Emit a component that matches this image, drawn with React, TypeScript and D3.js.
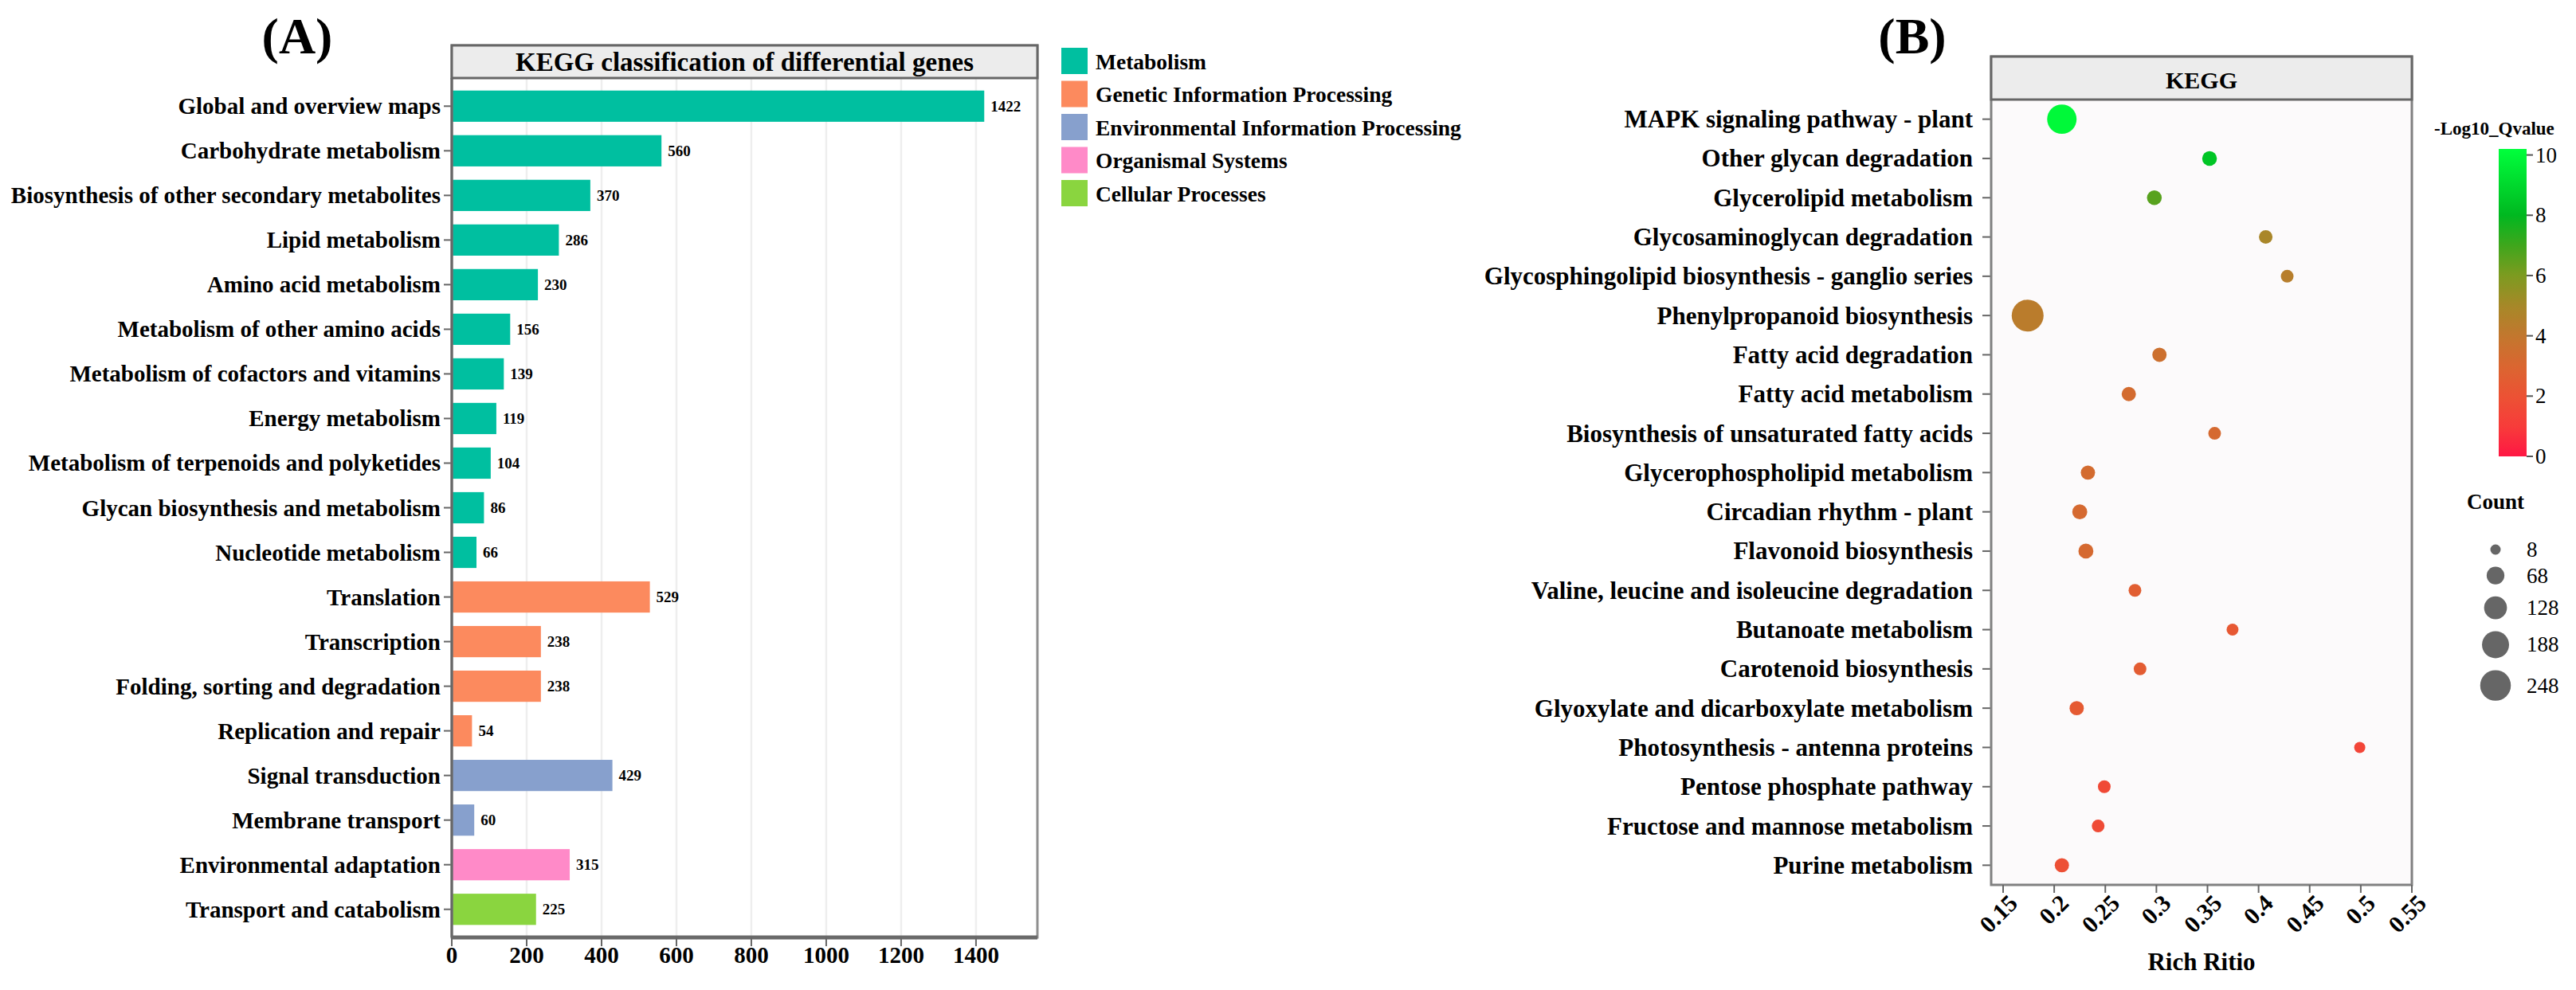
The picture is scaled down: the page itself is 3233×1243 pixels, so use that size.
import * as d3 from "d3";

// ---- Panel A data ----
const categoriesA = [
  "Global and overview maps",
  "Carbohydrate metabolism",
  "Biosynthesis of other secondary metabolites",
  "Lipid metabolism",
  "Amino acid metabolism",
  "Metabolism of other amino acids",
  "Metabolism of cofactors and vitamins",
  "Energy metabolism",
  "Metabolism of terpenoids and polyketides",
  "Glycan biosynthesis and metabolism",
  "Nucleotide metabolism",
  "Translation",
  "Transcription",
  "Folding, sorting and degradation",
  "Replication and repair",
  "Signal transduction",
  "Membrane transport",
  "Environmental adaptation",
  "Transport and catabolism",
];
const valuesA = [1422, 560, 370, 286, 230, 156, 139, 119, 104, 86, 66, 529, 238, 238, 54, 429, 60, 315, 225];
const groupOfA = [0, 0, 0, 0, 0, 0, 0, 0, 0, 0, 0, 1, 1, 1, 1, 2, 2, 3, 4];
const groupNames = [
  "Metabolism",
  "Genetic Information Processing",
  "Environmental Information Processing",
  "Organismal Systems",
  "Cellular Processes",
];
const groupColors = ["#00BFA0", "#FC8A5E", "#87A0CD", "#FF8AC8", "#8AD53F"];
const ticksA = [0, 200, 400, 600, 800, 1000, 1200, 1400];

// ---- Panel B data ----
const pathways = [
  "MAPK signaling pathway - plant",
  "Other glycan degradation",
  "Glycerolipid metabolism",
  "Glycosaminoglycan degradation",
  "Glycosphingolipid biosynthesis - ganglio series",
  "Phenylpropanoid biosynthesis",
  "Fatty acid degradation",
  "Fatty acid metabolism",
  "Biosynthesis of unsaturated fatty acids",
  "Glycerophospholipid metabolism",
  "Circadian rhythm - plant",
  "Flavonoid biosynthesis",
  "Valine, leucine and isoleucine degradation",
  "Butanoate metabolism",
  "Carotenoid biosynthesis",
  "Glyoxylate and dicarboxylate metabolism",
  "Photosynthesis - antenna proteins",
  "Pentose phosphate pathway",
  "Fructose and mannose metabolism",
  "Purine metabolism",
];
const richRatio = [0.2075, 0.352, 0.298, 0.407, 0.428, 0.174, 0.303, 0.273, 0.357, 0.233, 0.225, 0.231, 0.279, 0.3745, 0.284, 0.222, 0.499, 0.249, 0.243, 0.2075];
const qValue = [10.0, 8.4, 6.6, 4.9, 4.4, 4.3, 3.6, 3.3, 3.2, 3.3, 3.2, 3.2, 2.6, 2.3, 2.5, 2.4, 1.4, 1.6, 1.7, 1.9];
const counts = [227, 40, 40, 30, 24, 270, 36, 36, 24, 36, 42, 42, 24, 18, 24, 36, 13, 24, 24, 36];
const ticksB = [0.15, 0.2, 0.25, 0.3, 0.35, 0.4, 0.45, 0.5, 0.55];
const qTicks = [0, 2, 4, 6, 8, 10];
const countBreaks = [8, 68, 128, 188, 248];
const qStops = [0, 1, 2, 3, 4, 5, 6, 7, 8, 10.2];
const qColors = ["#FF1744", "#F73C3A", "#EC5234", "#DA6630", "#C2772E", "#A68828", "#7D9B20", "#3FA61C", "#00B820", "#00FF3C"];

const FONT = "'Liberation Serif', 'Times New Roman', serif";

export default function App() {
  // Panel A scales
  const xA = d3.scaleLinear().domain([0, 1564]).range([567, 1302]);
  const yA = d3.scaleBand().domain(categoriesA).range([98, 1177]).paddingInner(0.3).paddingOuter(0.28);

  // Panel B scales
  const xB = d3.scaleLinear().domain([0.1383, 0.55]).range([2499, 3027]);
  const yB = d3.scalePoint().domain(pathways).range([125, 1111]).padding(0.5);
  const area = d3.scaleLinear().domain([8, 248]).range([42, 370]);
  const rB = (c: number) => Math.sqrt(area(c));
  const colorB = d3.scaleLinear<string>().domain(qStops).range(qColors).interpolate(d3.interpolateRgb);
  const cbY = d3.scaleLinear().domain([0, 10.2]).range([573, 187]);
  const gradStops = d3.range(0, 10.21, 0.2);

  // size legend layout
  const legR = countBreaks.map(rB);
  const legY: number[] = [];
  legR.forEach((r, i) => {
    legY.push(i === 0 ? 690 : legY[i - 1] + legR[i - 1] + r + 15);
  });

  return (
    <svg
      width={3233}
      height={1243}
      style={{ position: "absolute", left: 0, top: 0, background: "#fff" }}
      fontFamily={FONT}
      fontWeight="bold"
    >
      <defs>
        <linearGradient id="qgrad" x1="0" x2="0" y1="1" y2="0">
          {gradStops.map((v) => (
            <stop key={v} offset={`${(v / 10.2) * 100}%`} stopColor={colorB(v)} />
          ))}
        </linearGradient>
      </defs>

      {/* ================= Panel A ================= */}
      <text x={373} y={67} fontSize={64} textAnchor="middle">(A)</text>
      <rect x={567} y={57} width={735} height={1120} fill="#fff" />
      {ticksA.map((t) => (
        <line key={t} x1={xA(t)} x2={xA(t)} y1={98} y2={1177} stroke="#eeeeee" strokeWidth={2.5} />
      ))}
      {categoriesA.map((c, i) => (
        <g key={c}>
          <rect
            x={xA(0)}
            y={yA(c)!}
            width={xA(valuesA[i]) - xA(0)}
            height={yA.bandwidth()}
            fill={groupColors[groupOfA[i]]}
          />
          <text
            x={xA(valuesA[i]) + 8}
            y={yA(c)! + yA.bandwidth() / 2}
            fontSize={19}
            dominantBaseline="central"
          >
            {valuesA[i]}
          </text>
          <line x1={557} x2={567} y1={yA(c)! + yA.bandwidth() / 2} y2={yA(c)! + yA.bandwidth() / 2} stroke="#666" strokeWidth={2} />
          <text x={553} y={yA(c)! + yA.bandwidth() / 2} fontSize={29} textAnchor="end" dominantBaseline="central">
            {c}
          </text>
        </g>
      ))}
      <rect x={567} y={57} width={735} height={1120} fill="none" stroke="#8f8f8f" strokeWidth={3} />
      <rect x={567} y={57} width={735} height={41} fill="#ececec" stroke="#666" strokeWidth={3} />
      <text x={(567 + 1302) / 2} y={89} fontSize={33} textAnchor="middle">
        KEGG classification of differential genes
      </text>
      <line x1={567} x2={567} y1={98} y2={1177} stroke="#666" strokeWidth={3} />
      <line x1={567} x2={1302} y1={1177} y2={1177} stroke="#6a6a6a" strokeWidth={5} />
      {ticksA.map((t) => (
        <g key={t}>
          <line x1={xA(t)} x2={xA(t)} y1={1177} y2={1188} stroke="#666" strokeWidth={2} />
          <text x={xA(t)} y={1209} fontSize={29} textAnchor="middle">{t}</text>
        </g>
      ))}

      {/* legend A */}
      {groupNames.map((g, i) => (
        <g key={g}>
          <rect x={1332} y={60 + i * 41.5} width={33} height={33} fill={groupColors[i]} />
          <text x={1375} y={60 + i * 41.5 + 17} fontSize={27.5} dominantBaseline="central">{g}</text>
        </g>
      ))}

      {/* ================= Panel B ================= */}
      <text x={2400} y={67} fontSize={64} textAnchor="middle">(B)</text>
      <rect x={2499} y={125} width={528} height={986} fill="#FCFAFB" />
      {pathways.map((p, i) => (
        <g key={p}>
          <line x1={2488} x2={2499} y1={yB(p)!} y2={yB(p)!} stroke="#666" strokeWidth={2} />
          <text x={2476} y={yB(p)!} fontSize={31} textAnchor="end" dominantBaseline="central">{p}</text>
          <circle cx={xB(richRatio[i])} cy={yB(p)!} r={rB(counts[i])} fill={colorB(qValue[i])} />
        </g>
      ))}
      <rect x={2499} y={71} width={528} height={1040} fill="none" stroke="#808080" strokeWidth={3} />
      <rect x={2499} y={71} width={528} height={54} fill="#ececec" stroke="#666" strokeWidth={3} />
      <text x={(2499 + 3027) / 2} y={111} fontSize={30} textAnchor="middle">KEGG</text>
      {ticksB.map((t) => (
        <g key={t}>
          <line x1={xB(t)} x2={xB(t)} y1={1111} y2={1121} stroke="#666" strokeWidth={2} />
          <text
            transform={`translate(${xB(t) + 4},${1120}) rotate(-45)`}
            fontSize={30}
            textAnchor="end"
            dy="0.75em"
          >
            {t}
          </text>
        </g>
      ))}
      <text x={(2499 + 3027) / 2} y={1218} fontSize={31} textAnchor="middle">Rich Ritio</text>

      {/* colour bar */}
      <text x={3055} y={169} fontSize={23}>-Log10_Qvalue</text>
      <rect x={3136} y={cbY(10.2)} width={35} height={cbY(0) - cbY(10.2)} fill="url(#qgrad)" />
      {qTicks.map((t) => (
        <g key={t}>
          <line x1={3171} x2={3179} y1={cbY(t)} y2={cbY(t)} stroke="#555" strokeWidth={2} />
          <text x={3182} y={cbY(t)} fontSize={27} fontWeight="normal" dominantBaseline="central">{t}</text>
        </g>
      ))}

      {/* size legend */}
      <text x={3096} y={639} fontSize={27}>Count</text>
      {countBreaks.map((c, i) => (
        <g key={c}>
          <circle cx={3132} cy={legY[i]} r={legR[i]} fill="#666" />
          <text x={3171} y={legY[i]} fontSize={27} fontWeight="normal" dominantBaseline="central">{c}</text>
        </g>
      ))}
    </svg>
  );
}
